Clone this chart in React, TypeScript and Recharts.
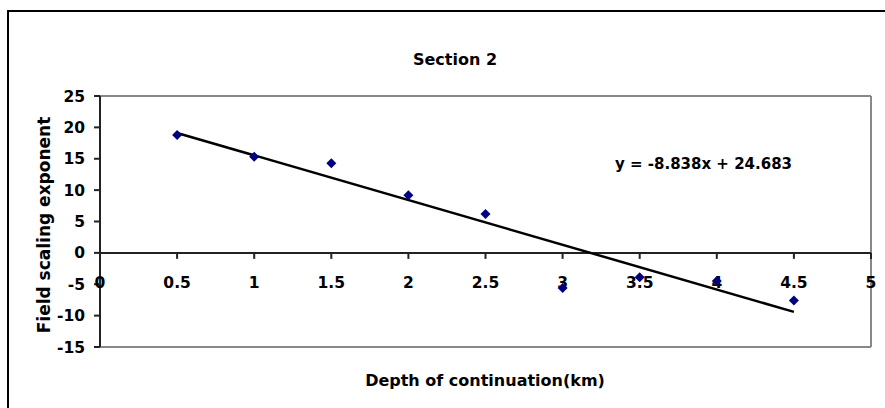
import React from 'react';
import { ScatterChart, Scatter, XAxis, YAxis, ReferenceLine } from 'recharts';

const depths = [0.5, 1, 1.5, 2, 2.5, 3, 3.5, 4, 4.5];
const exponents = [18.8, 15.3, 14.3, 9.2, 6.2, -5.6, -3.9, -4.5, -7.6];
const trendX = [0.5, 4.5];
const trendY = [19.1, -9.4];
const xTicks = [0, 0.5, 1, 1.5, 2, 2.5, 3, 3.5, 4, 4.5, 5];
const yTicks = [-15, -10, -5, 0, 5, 10, 15, 20, 25];

const points = depths.map((x, i) => ({ x, y: exponents[i] }));
const trend = trendX.map((x, i) => ({ x, y: trendY[i] }));
const tickRow = xTicks.map((x) => ({ x, y: 0 }));

const FONT = '"DejaVu Sans", sans-serif';

const Diamond = (props: any) => {
  const { cx, cy } = props;
  return (
    <polygon
      points={`${cx},${cy - 5} ${cx + 5},${cy} ${cx},${cy + 5} ${cx - 5},${cy}`}
      fill="#000080"
    />
  );
};

// x ticks sit on the zero line, so draw them as a scatter row at y = 0
const XTick = (props: any) => {
  const { cx, cy, payload } = props;
  return (
    <g>
      <line x1={cx} y1={cy} x2={cx} y2={cy + 6} stroke="#222" strokeWidth={2} />
      <text
        x={cx}
        y={cy + 35}
        textAnchor="middle"
        fontFamily={FONT}
        fontWeight="bold"
        fontSize={15.5}
        fill="#000"
      >
        {String(payload.x)}
      </text>
    </g>
  );
};

export default function App() {
  return (
    <div style={{ position: 'absolute', left: 0, top: 0, width: 885, height: 408, overflow: 'hidden', background: '#fff' }}>
      <div
        style={{
          position: 'absolute',
          left: 7,
          top: 10,
          width: 900,
          height: 420,
          border: '2px solid #000',
        }}
      />
      <div style={{ position: 'absolute', left: 0, top: 0 }}>
        <ScatterChart width={885} height={408} margin={{ top: 96, right: 14, bottom: 61, left: 0 }}>
          <XAxis type="number" dataKey="x" domain={[0, 5]} hide />
          <YAxis
            type="number"
            dataKey="y"
            domain={[-15, 25]}
            ticks={yTicks}
            interval={0}
            width={100}
            axisLine={{ stroke: '#222', strokeWidth: 2 }}
            tickLine={{ stroke: '#222', strokeWidth: 2 }}
            tickSize={6}
            tickMargin={9}
            tick={{ fontFamily: FONT, fontWeight: 'bold', fontSize: 15.5, fill: '#000' }}
          />
          <ReferenceLine y={25} stroke="#888" strokeWidth={2} />
          <ReferenceLine x={5} stroke="#888" strokeWidth={2} />
          <ReferenceLine y={-15} stroke="#888" strokeWidth={2} />
          <ReferenceLine y={0} stroke="#222" strokeWidth={2} />
          <Scatter data={tickRow} shape={XTick} isAnimationActive={false} />
          <Scatter
            data={trend}
            line={{ stroke: '#000', strokeWidth: 2.5 }}
            shape={() => null}
            isAnimationActive={false}
          />
          <Scatter data={points} shape={Diamond} isAnimationActive={false} />
          <text x={455} y={65} textAnchor="middle" fontFamily={FONT} fontWeight="bold" fontSize={16} fill="#000">
            Section 2
          </text>
          <text x={615} y={169} fontFamily={FONT} fontWeight="bold" fontSize={15} fill="#000">
            y = -8.838x + 24.683
          </text>
          <text x={485} y={386} textAnchor="middle" fontFamily={FONT} fontWeight="bold" fontSize={16} fill="#000">
            Depth of continuation(km)
          </text>
          <text
            x={0}
            y={0}
            transform="translate(50,225) rotate(-90)"
            textAnchor="middle"
            fontFamily={FONT}
            fontWeight="bold"
            fontSize={17}
            fill="#000"
          >
            Field scaling exponent
          </text>
        </ScatterChart>
      </div>
    </div>
  );
}
